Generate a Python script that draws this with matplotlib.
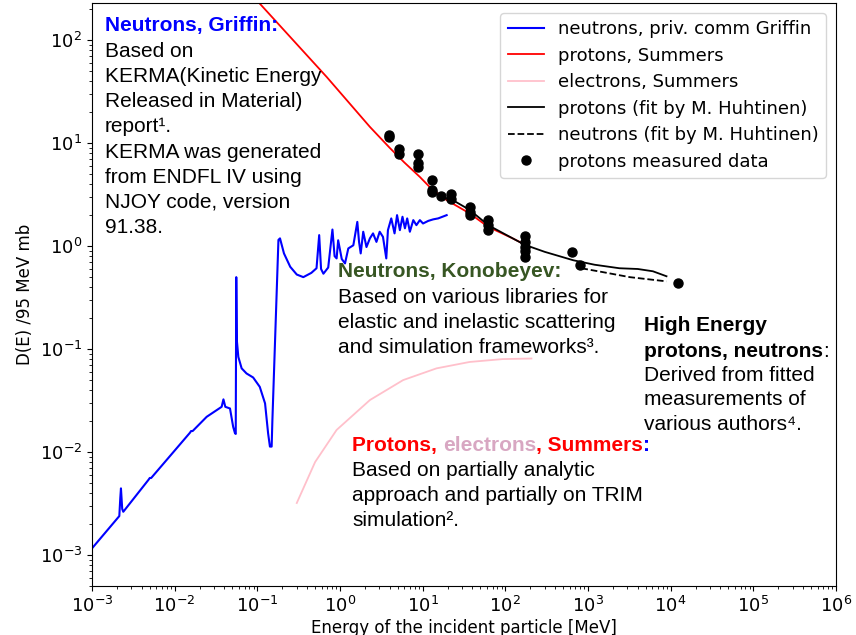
import numpy as np
import matplotlib
matplotlib.use("Agg")
import matplotlib.pyplot as plt

# --- data ---
# neutrons, Griffin (KERMA)
griffin_E = [1e-3, 2.14e-3, 2.2e-3, 2.24e-3, 2.32e-3, 2.39e-3, 4.8e-3, 5.0e-3, 5.2e-3,
             0.0153, 0.0158, 0.0165, 0.0244, 0.037, 0.0389, 0.041, 0.0467, 0.051,
             0.0537, 0.0548, 0.0556, 0.0566, 0.0589, 0.0646, 0.074, 0.089, 0.107,
             0.124, 0.135, 0.142, 0.149, 0.152, 0.18, 0.188, 0.21, 0.25, 0.3, 0.36,
             0.45, 0.52, 0.56, 0.59, 0.63, 0.72, 0.81, 0.86, 0.91, 0.95, 1.05, 1.15,
             1.26, 1.45, 1.62, 1.7, 1.78, 1.91, 2.09, 2.3, 2.51, 2.76, 3.02, 3.31,
             3.63, 3.8, 4.17, 4.57, 4.9, 5.3, 5.7, 6.1, 6.5, 7.0, 7.7, 8.4, 9.25,
             10.1, 11.7, 13.4, 15.4, 19.5]
griffin_D = [1.16e-3, 2.39e-3, 3.6e-3, 4.44e-3, 2.8e-3, 2.63e-3, 5.35e-3, 5.6e-3, 5.6e-3,
             0.0154, 0.016, 0.016, 0.022, 0.0275, 0.0325, 0.0275, 0.0265, 0.0176,
             0.0152, 0.015, 0.50, 0.12, 0.084, 0.065, 0.058, 0.053, 0.043,
             0.0297, 0.0152, 0.0113, 0.0113, 0.02, 1.15, 1.19, 0.85, 0.63, 0.53, 0.50,
             0.55, 0.61, 1.28, 0.60, 0.54, 0.62, 1.45, 0.80, 0.76, 1.14, 0.75, 0.68,
             0.95, 1.02, 1.72, 1.1, 0.85, 1.38, 0.98, 1.19, 1.33, 1.10, 1.38, 1.23,
             0.76, 1.43, 1.86, 1.33, 2.0, 1.43, 1.93, 1.49, 1.86, 1.38, 1.79, 1.6, 1.79,
             1.66, 1.76, 1.82, 1.86, 2.0]

# protons, Summers
summers_p_E = [0.1, 0.107, 0.69, 2.3, 4.0, 6.0, 9.25, 12.8, 19.5, 37, 62, 120, 198]
summers_p_D = [245, 227, 44, 14.4, 9.0, 6.5, 4.7, 3.6, 2.8, 2.08, 1.54, 1.2, 0.98]

# electrons, Summers
summers_e_E = [0.3, 0.5, 0.91, 2.3, 5.8, 14.7, 37, 93, 207]
summers_e_D = [3.2e-3, 8.0e-3, 0.0164, 0.032, 0.05, 0.065, 0.075, 0.08, 0.081]

# fits by M. Huhtinen
fit_p_E = [16, 25, 37, 62, 100, 172, 300, 661, 1200, 2400, 4000, 6100, 8900]
fit_p_D = [3.1, 2.7, 2.25, 1.6, 1.3, 1.03, 0.88, 0.73, 0.66, 0.61, 0.60, 0.57, 0.51]
fit_n_E = [830, 1500, 3200, 8900]
fit_n_D = [0.61, 0.56, 0.50, 0.455]

# protons measured data
meas_E = [3.94, 3.94, 5.2, 5.2, 8.8, 8.8, 8.8, 12.8, 12.8, 12.8, 16.6, 21.9, 21.9,
          37.2, 37.2, 37.2, 62, 62, 62, 172, 172, 172, 172, 172, 649, 796, 12300]
meas_D = [11.9, 11.4, 8.7, 7.9, 7.9, 6.35, 5.9, 4.37, 3.5, 3.37, 3.06, 3.2, 2.9,
          2.38, 2.15, 2.0, 1.79, 1.6, 1.43, 1.25, 1.10, 0.98, 0.90, 0.79, 0.87, 0.65, 0.44]

W, H = 856, 635
fig = plt.figure(figsize=(W / 100, H / 100), dpi=100)
ax = fig.add_axes([92 / W, 1 - 586 / H, (836 - 92) / W, (586 - 3) / H])

ax.plot(griffin_E, griffin_D, color='blue', lw=1.5, label='neutrons, priv. comm Griffin')
ax.plot(summers_p_E, summers_p_D, color='red', lw=1.3, label='protons, Summers')
ax.plot(summers_e_E, summers_e_D, color='pink', lw=1.3, label='electrons, Summers')
ax.plot(fit_p_E, fit_p_D, color='black', lw=1.3, label='protons (fit by M. Huhtinen)')
ax.plot(fit_n_E, fit_n_D, color='black', lw=1.3, ls='--', label='neutrons (fit by M. Huhtinen)')
ax.plot(meas_E, meas_D, 'o', color='black', ms=6.5, label='protons measured data')

ax.set_xscale('log')
ax.set_yscale('log')
ax.set_xlim(1e-3, 1e6)
ax.set_ylim(5e-4, 230)
ax.set_xticks([10.0 ** k for k in range(-3, 7)])
ax.set_yticks([10.0 ** k for k in range(-3, 3)])
ax.tick_params(labelsize=13)
ax.set_xlabel('Energy of the incident particle [MeV]', fontsize=12, labelpad=2)
ax.set_ylabel('D(E) /95 MeV mb', fontsize=12)
ax.legend(loc='upper right', fontsize=13, labelspacing=0.47, borderaxespad=0.55)

# annotation text blocks
fam = ['Liberation Sans', 'DejaVu Sans']
fs = 15
lsp = 1.41


def px(x, y):
    return x / W, 1 - y / H


def header(x, y, pieces, **kw):
    t = fig.text(*px(x, y), pieces[0][0], color=pieces[0][1], va='top', ha='left',
                 fontsize=fs, family=fam, **kw)
    for s, c, w in pieces[1:]:
        t = ax.annotate(s, xy=(1, 0), xycoords=t, va='bottom', ha='left', color=c,
                        fontsize=fs, family=fam, weight=w, annotation_clip=False)
    return t


def body(x, y, s, ls=lsp):
    fig.text(*px(x, y), s, va='top', ha='left', fontsize=fs, family=fam,
             linespacing=ls, color='black')


header(105, 16, [('Neutrons, Griffin:', 'blue')], weight='bold')
body(105, 42, 'Based on\nKERMA(Kinetic Energy\nReleased in Material)\nreport\u00b9.\n'
     'KERMA was generated\nfrom ENDFL IV using\nNJOY code, version\n91.38.')

header(338, 262, [('Neutrons, Konobeyev:', '#375623')], weight='bold')
body(338, 288, 'Based on various libraries for\nelastic and inelastic scattering\n'
     'and simulation frameworks\u00b3.')

header(644, 316, [('High Energy', 'black')], weight='bold')
header(644, 342, [('protons, neutrons', 'black'), (':', 'black', 'normal')], weight='bold')
body(644, 366, 'Derived from fitted\nmeasurements of\nvarious authors\u2074.', ls=1.36)

header(352, 436, [('Protons, ', 'red'), ('electrons', '#d8a7c2', 'bold'),
                  (', Summers', 'red', 'bold'), (':', 'blue', 'bold')], weight='bold')
body(352, 461, 'Based on partially analytic\napproach and partially on TRIM\nsimulation\u00b2.')

fig.savefig('out.png', dpi=100)
